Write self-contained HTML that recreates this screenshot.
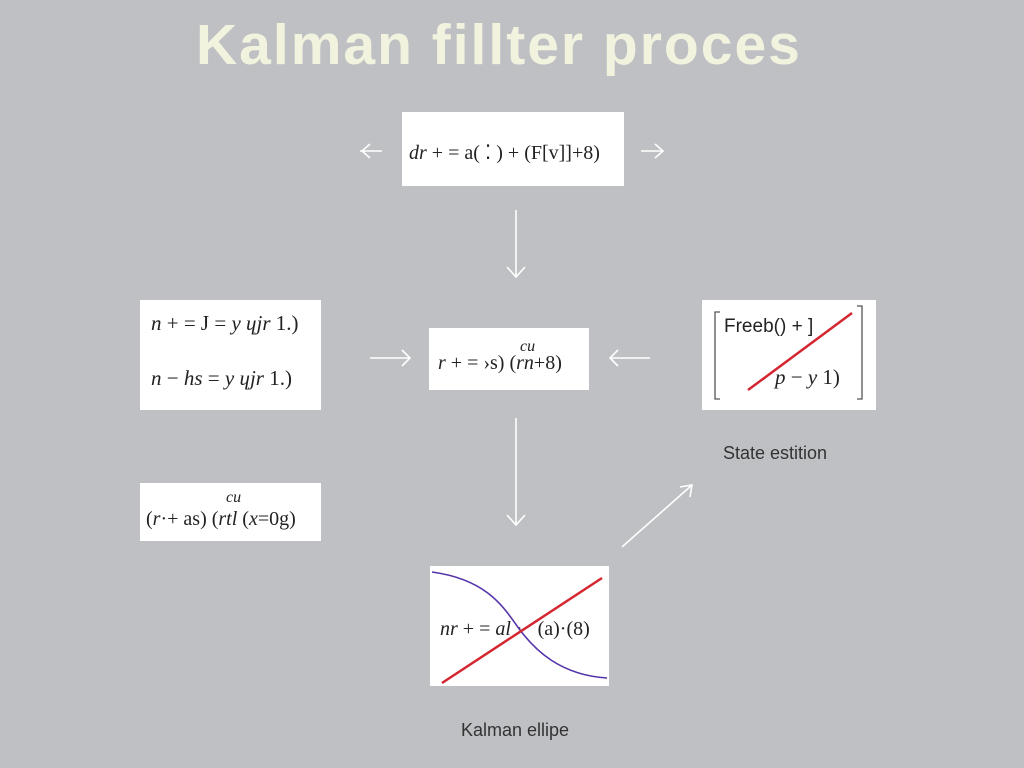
<!DOCTYPE html>
<html><head><meta charset="utf-8"><style>
body{margin:0;width:1024px;height:768px;background:#bfc0c3;position:relative;overflow:hidden;font-family:"Liberation Serif",serif;}
.b{position:absolute;background:#fff;}
.t{position:absolute;white-space:nowrap;color:#222;}
.m{font-family:"Liberation Serif",serif;font-size:21px;}
.s{font-family:"Liberation Sans",sans-serif;}
</style></head><body>
<div class="t s" style="left:196px;top:12px;font-size:57px;font-weight:bold;color:#f2f3df;letter-spacing:2px;">Kalman fillter proces</div>

<div class="b" style="left:402px;top:112px;width:222px;height:74px"></div>
<div class="t m" style="left:409px;top:140px;font-size:20px;"><i>dr</i> + = a( ⁚ ) + (F[v]]+8)</div>

<div class="b" style="left:140px;top:300px;width:181px;height:110px"></div>
<div class="t m" style="left:151px;top:311px;"><i>n</i> + = J = <i>y ɥjr</i> 1.)</div>
<div class="t m" style="left:151px;top:366px;"><i>n</i> − <i>hs</i> = <i>y ɥjr</i> 1.)</div>

<div class="b" style="left:429px;top:328px;width:160px;height:62px"></div>
<div class="t m" style="left:520px;top:338px;font-size:16px;"><i>cu</i></div>
<div class="t m" style="left:438px;top:352px;font-size:20px;"><i>r</i> + = ›s) (<i>rn</i>+8)</div>

<div class="b" style="left:140px;top:483px;width:181px;height:58px"></div>
<div class="t m" style="left:226px;top:489px;font-size:16px;"><i>cu</i></div>
<div class="t m" style="left:146px;top:508px;font-size:20px;">(<i>r</i>·+ as) (<i>rtl</i> (<i>x</i>=0g)</div>

<div class="b" style="left:702px;top:300px;width:174px;height:110px"></div>
<div class="t s" style="left:724px;top:316px;font-size:19px;">Freeb() + ]</div>
<div class="t m" style="left:775px;top:365px;font-size:21px;"><i>p</i> − <i>y</i> 1)</div>

<div class="b" style="left:430px;top:566px;width:179px;height:120px"></div>
<div class="t m" style="left:440px;top:618px;font-size:20px;"><i>nr</i> + = <i>al</i> ·&nbsp;&nbsp;&nbsp;(a)·(8)</div>

<div class="t s" style="left:723px;top:443px;font-size:18px;color:#333;">State estition</div>
<div class="t s" style="left:461px;top:720px;font-size:18px;color:#333;">Kalman ellipe</div>

<svg width="1024" height="768" style="position:absolute;left:0;top:0" fill="none">
<g stroke="#fff" stroke-width="1.6">
<path d="M360 151h22M370 144l-8 7 8 7"/>
<path d="M641 151h22M655 144l8 7-8 7"/>
<path d="M516 210v66M507 267l9 10 9-10"/>
<path d="M370 358h40M402 350l8 8-8 8"/>
<path d="M610 358h40M618 350l-8 8 8 8"/>
<path d="M516 418v106M507 515l9 10 9-10"/>
<path d="M622 547l70-62M680 487l12-2-2 12"/>
</g>
<g stroke="#555" stroke-width="1.3">
<path d="M720 312h-5v87h5"/>
<path d="M857 306h5v93h-5"/>
</g>
<path d="M432 572C490 580 505 610 520 630S560 675 607 678" stroke="#5533aa" stroke-width="1.6"/>
<path d="M442 683L602 578" stroke="#d32630" stroke-width="2.5"/>
<path d="M748 390L852 313" stroke="#d32630" stroke-width="2.5"/>
</svg>
</body></html>
